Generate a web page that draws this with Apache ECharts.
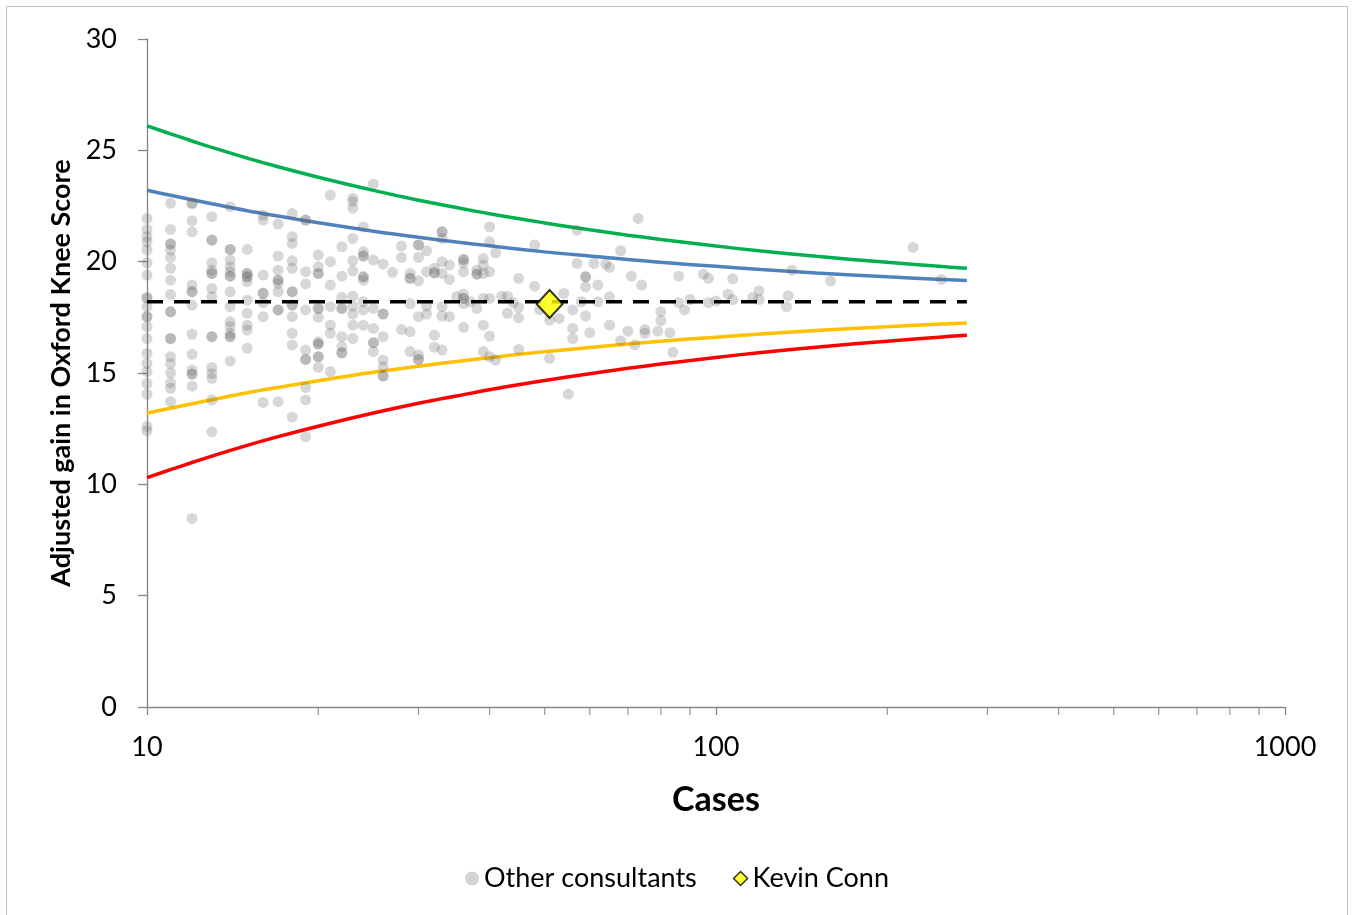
<!DOCTYPE html>
<html>
<head>
<meta charset="utf-8">
<script src="https://cdn.jsdelivr.net/npm/echarts@6/dist/echarts.min.js"></script>
<style>
html,body{margin:0;padding:0;background:#fff;}
#chart{width:1354px;height:915px;}
</style>
</head>
<body>
<div id="chart"></div>
<script>
// ---- data ----
const xTickLabels = [10, 100, 1000];
const yTickLabels = [0, 5, 10, 15, 20, 25, 30];
const minorTickCases = [20, 30, 40, 50, 60, 70, 80, 90, 200, 300, 400, 500, 600, 700, 800, 900];

// Other consultants: [cases, adjusted gain]
const otherConsultants = [
  [10,21.94],[10,21.45],[10,21.12],[10,20.89],[10,20.52],[10,19.95],[10,19.40],[10,18.38],[10,18.38],[10,17.98],
  [10,17.53],[10,17.53],[10,17.08],[10,16.55],[10,15.88],[10,15.43],[10,15.06],[10,14.53],[10,14.05],[10,12.6],[10,12.4],
  [11,22.62],[11,21.45],[11,20.79],[11,20.79],[11,20.52],[11,20.19],[11,19.70],[11,19.17],[11,18.53],[11,17.75],
  [11,17.75],[11,16.55],[11,16.55],[11,15.73],[11,15.43],[11,15.01],[11,14.56],[11,14.31],[11,13.71],
  [12,22.62],[12,22.62],[12,21.84],[12,21.34],[12,18.95],[12,18.65],[12,18.65],[12,18.05],[12,16.74],[12,15.84],
  [12,15.13],[12,14.95],[12,14.95],[12,14.41],[12,8.47],
  [13,22.02],[13,20.97],[13,20.97],[13,19.95],[13,19.62],[13,19.47],[13,19.47],[13,18.80],[13,18.42],[13,16.63],
  [13,16.63],[13,15.25],[13,14.98],[13,14.76],[13,13.79],[13,12.36],
  [14,22.47],[14,20.55],[14,20.55],[14,20.07],[14,19.77],[14,19.55],[14,19.35],[14,19.35],[14,18.65],[14,17.98],
  [14,17.30],[14,17.08],[14,16.78],[14,16.63],[14,16.63],[14,15.54],
  [15,20.55],[15,19.47],[15,19.47],[15,19.32],[15,19.32],[15,19.10],[15,18.27],[15,17.68],[15,17.15],[15,16.93],[15,16.11],
  [16,22.09],[16,21.87],[16,19.40],[16,18.58],[16,18.58],[16,18.16],[16,17.53],[16,13.68],
  [17,21.69],[17,20.25],[17,19.62],[17,19.17],[17,19.17],[17,19.02],[17,18.65],[17,17.83],[17,17.83],[17,13.71],
  [18,22.16],[18,21.12],[18,20.82],[18,20.04],[18,19.70],[18,18.65],[18,18.65],[18,18.05],[18,18.05],[18,17.53],
  [18,16.78],[18,16.26],[18,13.02],
  [19,21.87],[19,21.87],[19,19.55],[19,19.00],[19,17.83],[19,16.03],[19,15.61],[19,15.61],[19,14.36],[19,13.79],[19,12.14],
  [20,20.30],[20,19.77],[20,19.47],[20,19.47],[20,17.90],[20,17.90],[20,17.50],[20,16.40],[20,16.30],[20,16.30],
  [20,15.73],[20,15.73],[20,15.25],
  [21,22.99],[21,20.00],[21,18.95],[21,17.98],[21,17.15],[21,16.78],[21,15.06],
  [22,20.67],[22,19.35],[22,18.40],[22,17.90],[22,17.90],[22,16.63],[22,16.18],[22,15.91],[22,15.91],
  [23,22.85],[23,22.70],[23,22.40],[23,21.04],[23,20.04],[23,19.59],[23,18.45],[23,18.00],[23,17.65],[23,17.15],[23,16.55],
  [24,21.56],[24,20.44],[24,20.25],[24,20.25],[24,19.32],[24,19.32],[24,19.17],[24,18.20],[24,17.83],[24,17.15],
  [25,23.48],[25,20.07],[25,17.90],[25,17.00],[25,16.36],[25,16.36],[25,15.96],
  [26,19.89],[26,17.65],[26,17.65],[26,16.63],[26,15.58],[26,15.28],[26,14.86],[26,14.86],
  [27,19.52],
  [28,20.70],[28,20.19],[28,16.95],
  [29,19.47],[29,19.25],[29,19.25],[29,18.12],[29,16.85],[29,15.96],
  [30,20.75],[30,20.75],[30,20.19],[30,19.14],[30,17.53],[30,15.81],[30,15.61],[30,15.61],
  [31,20.49],[31,19.55],[31,18.00],[31,17.65],
  [32,19.70],[32,19.50],[32,19.50],[32,16.70],[32,16.16],
  [33,21.34],[33,21.34],[33,21.04],[33,20.00],[33,19.47],[33,17.98],[33,17.56],[33,16.03],
  [34,19.85],[34,19.20],[34,17.53],
  [35,18.42],
  [36,20.10],[36,20.10],[36,19.95],[36,19.55],[36,18.54],[36,18.35],[36,18.35],[36,18.12],[36,17.05],
  [37,18.20],
  [38,19.62],[38,19.44],[38,19.44],[38,17.90],
  [39,20.14],[39,19.85],[39,19.47],[39,18.35],[39,17.15],[39,15.96],
  [40,21.56],[40,20.89],[40,19.55],[40,18.35],[40,16.66],[40,15.73],
  [41,20.40],[41,15.58],
  [42,18.45],
  [43,18.45],[43,17.68],
  [44,18.16],
  [45,19.25],[45,17.95],[45,17.48],[45,16.06],
  [48,20.75],[48,18.90],
  [49,17.85],
  [51,17.38],[51,15.66],
  [53,17.45],
  [54,18.57],
  [55,14.05],
  [56,17.83],[56,17.00],[56,16.55],
  [57,21.42],[57,19.92],
  [58,18.20],
  [59,19.32],[59,19.32],[59,18.87],[59,17.56],
  [60,16.81],
  [61,19.92],
  [62,18.95],[62,18.20],
  [64,19.89],
  [65,19.74],[65,18.42],[65,17.15],
  [68,20.49],[68,16.45],
  [70,16.88],
  [71,19.35],
  [72,16.26],
  [73,21.94],
  [74,18.95],
  [75,16.78],[75,16.95],
  [79,16.88],
  [80,17.35],[80,17.75],
  [83,16.81],
  [84,15.93],
  [86,19.35],[86,18.16],
  [88,17.83],
  [90,18.30],
  [95,19.44],
  [97,19.25],[97,18.16],
  [100,18.23],
  [105,18.54],
  [107,19.23],[107,18.30],
  [116,18.39],
  [119,18.69],[119,18.30],
  [133,17.98],
  [134,18.47],
  [136,19.62],
  [159,19.13],
  [222,20.64],
  [249,19.20]
];

const kevinConn = [[51, 18.1]];

// Funnel limits
const funnelCases = [10, 11, 12, 13, 15, 17, 20, 25, 30, 35, 40, 50, 60, 70, 80, 100, 120, 150, 200, 250, 276];
const upper998 = [26.10, 25.74, 25.42, 25.13, 24.65, 24.26, 23.79, 23.20, 22.76, 22.43, 22.15, 21.74, 21.43, 21.19, 21.00, 20.70, 20.48, 20.24, 19.97, 19.78, 19.70];
const upper95  = [23.21, 22.98, 22.78, 22.60, 22.29, 22.05, 21.75, 21.37, 21.10, 20.88, 20.71, 20.44, 20.25, 20.10, 19.97, 19.79, 19.65, 19.49, 19.32, 19.20, 19.15];
const lower95  = [13.19, 13.42, 13.62, 13.80, 14.11, 14.35, 14.65, 15.03, 15.30, 15.52, 15.69, 15.96, 16.15, 16.30, 16.43, 16.61, 16.75, 16.91, 17.08, 17.20, 17.25];
const lower998 = [10.30, 10.66, 10.98, 11.27, 11.75, 12.14, 12.61, 13.20, 13.64, 13.97, 14.25, 14.66, 14.97, 15.21, 15.40, 15.70, 15.92, 16.16, 16.43, 16.62, 16.70];
const meanCases = [10, 276];
const meanGain = [18.2, 18.2];

// ---- chart ----
const FONT = 'Lato, "Open Sans", sans-serif';
const AXIS_GREY = '#868686';
const pair = (xs, ys) => xs.map((x, i) => [x, ys[i]]);

const lineSeries = (name, ys, color) => ({
  name, type: 'line', data: pair(funnelCases, ys), showSymbol: false, smooth: 0.4,
  lineStyle: { color, width: 3.5 }, z: 2, silent: true
});

const chart = echarts.init(document.getElementById('chart'), null, { renderer: 'canvas' });
chart.setOption({
  animation: false,
  backgroundColor: '#fff',
  textStyle: { fontFamily: FONT },
  graphic: [{
    type: 'rect', shape: { x: 6.5, y: 6.5, width: 1341, height: 912 },
    style: { fill: 'none', stroke: '#bdbdbd', lineWidth: 1 }, silent: true, z: -10
  }],
  grid: { left: 147, right: 69, top: 39, bottom: 208, containLabel: false },
  legend: {
    bottom: 18, left: 'center', itemGap: 36, itemWidth: 14, itemHeight: 14,
    textStyle: { fontSize: 27, color: '#000', fontFamily: FONT },
    data: [
      { name: 'Other consultants', icon: 'circle', itemStyle: { color: '#c8c8c8', borderWidth: 0 } },
      { name: 'Kevin Conn', icon: 'diamond', itemStyle: { color: '#ffff00', borderColor: '#000', borderWidth: 1.5 } }
    ]
  },
  xAxis: {
    type: 'log', logBase: 10, min: xTickLabels[0], max: xTickLabels[xTickLabels.length - 1],
    name: 'Cases', nameLocation: 'middle', nameGap: 76,
    nameTextStyle: { fontSize: 34, fontWeight: 'bold', color: '#000', fontFamily: FONT },
    axisLine: { show: true, lineStyle: { color: AXIS_GREY, width: 1.3 } },
    axisTick: { show: true, inside: false, length: 8, lineStyle: { color: AXIS_GREY, width: 1.3 } },
    axisLabel: { fontSize: 27, color: '#000', margin: 27, fontFamily: FONT, formatter: v => String(Math.round(v)) },
    splitLine: { show: false }, minorTick: { show: false }
  },
  yAxis: {
    type: 'value', min: yTickLabels[0], max: yTickLabels[yTickLabels.length - 1], interval: 5,
    name: 'Adjusted gain in Oxford Knee Score', nameLocation: 'middle', nameGap: 72, nameRotate: 90,
    nameTextStyle: { fontSize: 27, fontWeight: 'bold', color: '#000', fontFamily: FONT },
    axisLine: { show: true, lineStyle: { color: AXIS_GREY, width: 1.3 } },
    axisTick: { show: true, inside: false, length: 9, lineStyle: { color: AXIS_GREY, width: 1.3 } },
    axisLabel: { fontSize: 27, color: '#000', margin: 30, fontFamily: FONT },
    splitLine: { show: false }
  },
  series: [
    lineSeries('Upper 99.8%', upper998, '#00b050'),
    lineSeries('Upper 95%', upper95, '#4f81bd'),
    lineSeries('Lower 95%', lower95, '#ffc000'),
    lineSeries('Lower 99.8%', lower998, '#ff0000'),
    {
      name: 'Other consultants', type: 'scatter', data: otherConsultants,
      symbol: 'circle', symbolSize: 11,
      itemStyle: { color: 'rgba(100,100,100,0.32)' }, z: 3, silent: true
    },
    {
      name: 'National mean', type: 'line', data: pair(meanCases, meanGain), showSymbol: false,
      lineStyle: { color: '#000', width: 3.5, type: [16, 11] }, z: 4, silent: true
    },
    {
      name: 'Kevin Conn', type: 'scatter', data: kevinConn, symbol: 'diamond', symbolSize: [26, 28],
      itemStyle: { color: '#ffff00', borderColor: '#000', borderWidth: 2 }, z: 5, silent: true
    },
    {
      name: 'minor ticks', type: 'scatter', data: minorTickCases.map(c => [c, yTickLabels[0]]),
      symbol: 'rect', symbolSize: [1.3, 8], symbolOffset: [0, 4], clip: false,
      itemStyle: { color: AXIS_GREY }, z: 1, silent: true
    }
  ]
});
</script>
</body>
</html>
